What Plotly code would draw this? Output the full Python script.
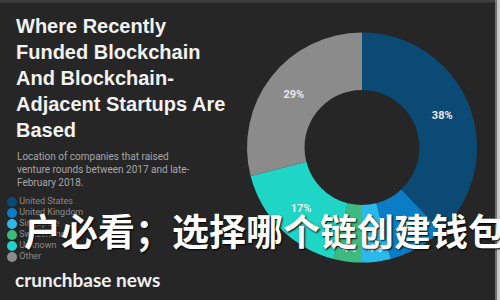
import plotly.graph_objects as go

# ---- data ----
countries = ["United States", "United Kingdom", "Singapore", "Switzerland", "Unknown", "Other"]
shares = [38, 8, 4, 4, 17, 29]
colors = ["#0a4a74", "#0b7dc6", "#2bb9ec", "#3dba80", "#1fd5c5", "#8b8b8b"]

title_text = "Where Recently<br>Funded Blockchain<br>And Blockchain-<br>Adjacent Startups Are<br>Based"
subtitle_text = "Location of companies that raised<br>venture rounds between 2017 and late-<br>February 2018."
brand_text = "crunchbase news"
overlay_text = "户必看；选择哪个链创建钱包"

W, H = 500, 300
BG = "#262626"

fig = go.Figure()

fig.add_trace(go.Pie(
    labels=countries, values=shares, sort=False, direction="clockwise", rotation=0,
    hole=0.5,
    marker=dict(colors=colors, line=dict(width=0)),
    textinfo="percent", textposition="inside", insidetextorientation="horizontal",
    textfont=dict(family="Roboto", size=11, color="#e8e8e8", weight="bold"),
    domain=dict(x=[(362 - 116) / W, (362 + 116) / W], y=[(152.5 - 115) / H, (152.5 + 115) / H]),
    showlegend=False, hoverinfo="skip",
))

# custom legend (circle markers)
fig.add_trace(go.Scatter(
    x=[0 for _ in countries], y=countries, mode="markers+text",
    marker=dict(size=10, color=colors, line=dict(width=0)),
    text=countries, textposition="middle right",
    textfont=dict(family="Roboto", size=9, color="#8a8a8a"),
    showlegend=False, hoverinfo="skip", cliponaxis=False,
))

fig.update_layout(
    width=W, height=H,
    margin=dict(l=0, r=0, t=0, b=0),
    paper_bgcolor=BG, plot_bgcolor=BG,
    xaxis=dict(domain=[0, 0.4], range=[-0.12, 1.88], visible=False, fixedrange=True),
    yaxis=dict(domain=[0.125, 0.345], type="category", categoryorder="array",
               categoryarray=countries, range=[5.5, -0.5], visible=False, fixedrange=True),
    annotations=[
        dict(text=title_text, x=14 / W, y=1 - 13 / H, xref="paper", yref="paper",
             xanchor="left", yanchor="top", align="left", showarrow=False,
             font=dict(family="Liberation Sans", size=20, color="#f2f2f2", weight="bold")),
        dict(text=subtitle_text, x=15 / W, y=1 - 149 / H, xref="paper", yref="paper",
             xanchor="left", yanchor="top", align="left", showarrow=False,
             font=dict(family="Roboto", size=10, color="#a6a6a6")),
        dict(text=brand_text, x=13 / W, y=1 - 279 / H, xref="paper", yref="paper",
             xanchor="left", yanchor="middle", align="left", showarrow=False,
             font=dict(family="Lato", size=19, color="#f0f0f0", weight="bold")),
        dict(text=overlay_text, x=22 / W, y=1 - 230 / H, xref="paper", yref="paper",
             xanchor="left", yanchor="middle", align="left", showarrow=False,
             font=dict(family="Noto Sans CJK SC", size=37, color="#ffffff", weight="bold",
                       shadow="1px 1px 2px #000000")),
    ],
    shapes=[
        dict(type="line", xref="paper", yref="paper", x0=0, x1=1, y0=1 - 1 / H, y1=1 - 1 / H,
             line=dict(color="#3e3e3e", width=3)),
        dict(type="line", xref="paper", yref="paper", x0=1 - 4 / W, x1=1 - 4 / W, y0=0, y1=1,
             line=dict(color="#8a8a8a", width=1.5)),
        dict(type="rect", xref="paper", yref="paper", x0=1 - 3 / W, x1=1, y0=0, y1=1,
             fillcolor="#c8c8c8", line=dict(width=0)),
    ],
)

fig.write_html("out.html")
